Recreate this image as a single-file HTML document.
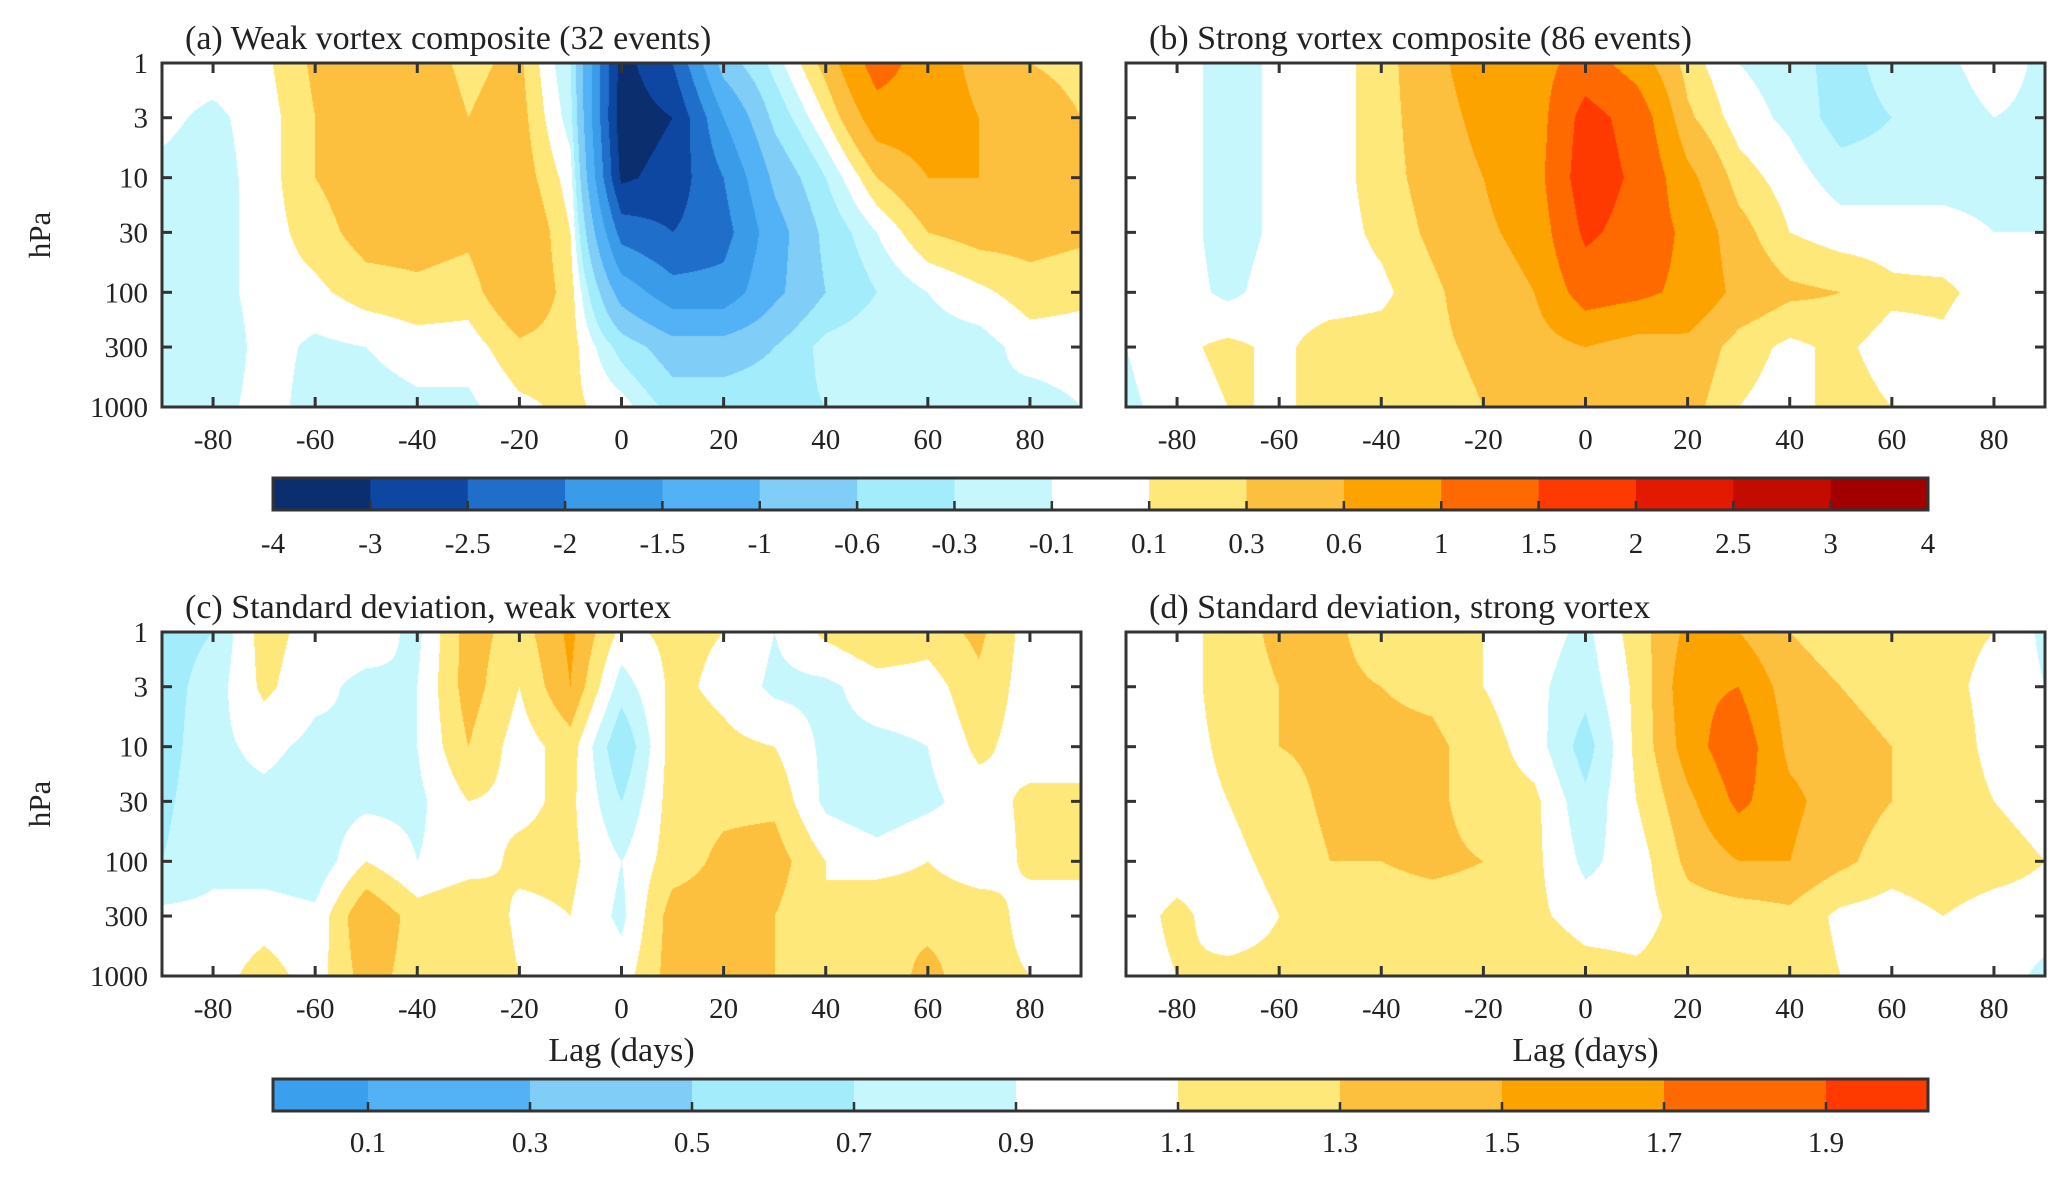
<!DOCTYPE html>
<html><head><meta charset="utf-8">
<style>
html,body{margin:0;padding:0;background:#fff;}
body{width:2067px;height:1179px;position:relative;overflow:hidden;font-family:"Liberation Serif",serif;color:#222;}
canvas{position:absolute;}
svg{position:absolute;left:0;top:0;}
</style></head><body>
<div id="root"></div>
<svg id="ov" width="2067" height="1179"></svg>
<script>
const lags=[-90,-80,-70,-60,-50,-40,-30,-20,-10,0,10,20,30,40,50,60,70,80,90];
const levels=[1,3,10,30,100,300,1000];
const xTickLabels=["-80","-60","-40","-20","0","20","40","60","80"];
const yTickLabels=["1","3","10","30","100","300","1000"];
// values per lag column, each listing levels 1..1000 hPa
const weakComposite=[
[0,-0.05,-0.15,-0.2,-0.2,-0.2,-0.2],[0,-0.15,-0.2,-0.2,-0.2,-0.3,-0.2],[0.05,0,0,0,0,0,0],
[0.35,0.3,0.3,0.2,0.05,-0.15,-0.2],[0.4,0.45,0.45,0.4,0.2,-0.1,-0.2],[0.4,0.45,0.45,0.4,0.25,0,-0.15],
[0.25,0.3,0.35,0.35,0.2,0,-0.15],[0.35,0.4,0.45,0.6,0.55,0.25,0.05],[-0.3,-0.2,0,0.1,0.2,0.2,0.15],
[-3.2,-3.3,-3.1,-2.2,-1.2,-0.4,0],[-2.5,-3,-2.8,-2.5,-1.8,-0.8,-0.4],[-0.8,-1.5,-2,-2.2,-1.8,-0.8,-0.4],
[-0.2,-0.5,-0.9,-1.2,-1.1,-0.6,-0.4],[0.4,0.1,-0.3,-0.5,-0.6,-0.2,-0.3],[1.2,0.8,0.3,-0.1,-0.3,-0.1,-0.3],
[0.8,0.8,0.6,0.3,-0.1,-0.2,-0.2],[0.5,0.6,0.6,0.4,0.05,-0.2,-0.1],[0.3,0.5,0.5,0.4,0.2,0,-0.2],
[0.2,0.3,0.4,0.35,0.15,0,-0.1]];
const strongComposite=[
[0,0,0,0,-0.1,-0.1,-0.15],[0,0,0,0,0,0.05,0],[-0.2,-0.2,-0.2,-0.2,-0.15,0.15,0.1],
[-0.05,-0.05,-0.05,-0.05,0,0.05,0.1],[0,0,0,0,0,0.2,0.1],[0.2,0.2,0.2,0.15,0.05,0.2,0.15],
[0.5,0.45,0.4,0.35,0.25,0.25,0.2],[0.8,0.7,0.6,0.55,0.45,0.35,0.3],[0.8,0.75,0.8,0.7,0.6,0.45,0.35],
[1.2,1.7,1.8,1.6,1.2,0.6,0.4],[0.8,1.3,1.4,1.3,1.1,0.45,0.4],[0.2,0.35,0.7,0.9,0.9,0.5,0.4],
[-0.1,0,0.2,0.4,0.5,0.2,0.1],[-0.2,-0.15,0,0.1,0.35,0.05,0],[-0.4,-0.4,-0.2,0,0.3,0.15,0.2],
[-0.2,-0.3,-0.2,0,0.15,0,0.1],[-0.15,-0.2,-0.15,-0.05,0.15,0.05,0],[0,-0.1,-0.15,-0.1,0,-0.1,0.05],
[-0.15,-0.15,-0.15,-0.1,0,0,0]];
const weakStd=[
[0.6,0.6,0.6,0.65,0.7,0.95,1.1],[0.7,0.8,0.85,0.85,0.85,0.95,1.0],[1.2,1.15,0.95,0.85,0.8,1.0,1.2],
[1.0,0.95,0.85,0.8,0.75,0.95,1.0],[1.0,0.85,0.9,0.85,1.1,1.5,1.4],[0.85,0.9,0.9,0.85,0.9,1.2,1.2],
[1.4,1.4,1.3,1.1,1.0,1.3,1.3],[1.2,1.1,1.0,1.05,1.15,1.05,1.1],[1.55,1.5,1.2,1.15,1.15,1.1,1.1],
[1.05,0.8,0.5,0.7,0.9,0.85,1.0],[1.15,1.15,1.2,1.2,1.2,1.4,1.4],[1.1,1.05,1.15,1.25,1.35,1.4,1.35],
[0.9,0.85,1.1,1.25,1.4,1.3,1.3],[1.15,0.85,0.85,0.85,1.1,1.1,1.3],[1.3,1.0,0.85,0.75,1.0,1.3,1.2],
[1.2,1.0,0.9,0.85,1.1,1.25,1.35],[1.35,1.25,1.15,1.0,0.95,1.25,1.2],[1.0,1.0,1.0,1.15,1.15,1.0,1.1],
[0.9,1.0,1.0,1.15,1.15,1.0,0.95]];
const strongStd=[
[1.0,1.0,0.9,0.9,0.95,1.0,1.0],[1.0,1.0,1.0,1.0,1.0,1.15,1.1],[1.2,1.2,1.15,1.1,1.05,1.0,1.15],
[1.35,1.3,1.3,1.2,1.15,1.1,1.15],[1.35,1.35,1.35,1.35,1.3,1.15,1.15],[1.2,1.3,1.35,1.35,1.3,1.2,1.15],
[1.2,1.25,1.35,1.35,1.35,1.2,1.2],[1.1,1.1,1.2,1.2,1.3,1.2,1.3],[1.0,0.95,1.0,1.15,1.15,1.15,1.3],
[0.85,0.78,0.6,0.75,0.85,1.0,1.2],[1.2,1.15,1.15,1.1,1.0,1.0,1.15],[1.55,1.65,1.6,1.45,1.35,1.2,1.2],
[1.5,1.7,1.85,1.75,1.5,1.2,1.3],[1.3,1.4,1.45,1.55,1.5,1.25,1.25],[1.2,1.3,1.4,1.4,1.35,1.05,1.1],
[1.15,1.2,1.3,1.3,1.2,1.0,1.0],[1.15,1.15,1.2,1.2,1.25,1.1,1.1],[1.1,1.05,1.05,1.1,1.2,1.0,1.0],
[0.85,0.9,0.95,1.0,1.1,1.0,0.85]];
const cb1Labels=["-4","-3","-2.5","-2","-1.5","-1","-0.6","-0.3","-0.1","0.1","0.3","0.6","1","1.5","2","2.5","3","4"];
const cb1Bounds=[-4,-3,-2.5,-2,-1.5,-1,-0.6,-0.3,-0.1,0.1,0.3,0.6,1,1.5,2,2.5,3,4];
const cb1Colors=["#0b2e6f","#0d47a1","#1f6fca","#3a9be8","#52b2f5","#80cdf8","#a2ecfc","#c6f7fc","#ffffff","#fee87a","#fcbf3e","#fca300","#fe6a00","#ff3a00","#e31a00","#c20c00","#a00000"];
const cb2Labels=["0.1","0.3","0.5","0.7","0.9","1.1","1.3","1.5","1.7","1.9"];
const cb2Bounds=[0.1,0.3,0.5,0.7,0.9,1.1,1.3,1.5,1.7,1.9];
const cb2Colors=["#3aa0ee","#52b2f5","#80cdf8","#a2ecfc","#c6f7fc","#ffffff","#fee87a","#fcbf3e","#fca300","#fe6a00","#ff3a00"];

const NS="http://www.w3.org/2000/svg";
const ov=document.getElementById('ov');
const root=document.getElementById('root');
function hex(c){return [parseInt(c.substr(1,2),16),parseInt(c.substr(3,2),16),parseInt(c.substr(5,2),16)];}
function bin1(v){let i=0;while(i<cb1Bounds.length-2&&v>=cb1Bounds[i+1])i++;return i;}
function bin2(v){let i=0;while(i<cb2Bounds.length&&v>=cb2Bounds[i])i++;return i;}
function text(x,y,s,size,anchor,name){
 const t=document.createElementNS(NS,'text');
 t.setAttribute('x',x);t.setAttribute('y',y);t.setAttribute('font-size',size);
 t.setAttribute('text-anchor',anchor||'middle');t.setAttribute('fill','#222');
 t.setAttribute('font-family','Liberation Serif, serif');
 
 
 t.textContent=s;ov.appendChild(t);return t;}
function line(x1,y1,x2,y2,w,name){
 const l=document.createElementNS(NS,'line');
 l.setAttribute('x1',x1);l.setAttribute('y1',y1);l.setAttribute('x2',x2);l.setAttribute('y2',y2);
 l.setAttribute('stroke','#333');l.setAttribute('stroke-width',w);
 
 
 ov.appendChild(l);}
function rect(x,y,w,h,fill,name,stroke){
 const r=document.createElementNS(NS,'rect');
 r.setAttribute('x',x);r.setAttribute('y',y);r.setAttribute('width',w);r.setAttribute('height',h);
 r.setAttribute('fill',fill);if(stroke){r.setAttribute('stroke',stroke);r.setAttribute('stroke-width',3);}
 
 
 ov.appendChild(r);}

function panel(L,T,W,H,data,mode,title,name,showY,showLag){
 const xs=v=>L+(v+90)/180*W;
 const ys=p=>T+Math.log10(p)/3*H;
 const cv=document.createElement('canvas');
 cv.width=W;cv.height=H;cv.style.left=L+'px';cv.style.top=T+'px';
 
 
 root.appendChild(cv);
 const ctx=cv.getContext('2d');const img=ctx.createImageData(W,H);
 const pal=(mode==1?cb1Colors:cb2Colors).map(hex);
 const nl=lags.length,nv=levels.length;
 const lx=levels.map(p=>Math.log10(p));
 for(let py=0;py<H;py++){
  const lp=(py+0.5)/H*3;
  let j=0;while(j<nv-2&&lp>lx[j+1])j++;
  const fy=Math.min(1,Math.max(0,(lp-lx[j])/(lx[j+1]-lx[j])));
  for(let px=0;px<W;px++){
   const lag=-90+(px+0.5)/W*180;
   let i=0;while(i<nl-2&&lag>lags[i+1])i++;
   const fx=Math.min(1,Math.max(0,(lag-lags[i])/(lags[i+1]-lags[i])));
   const v=(data[i][j]*(1-fx)+data[i+1][j]*fx)*(1-fy)+(data[i][j+1]*(1-fx)+data[i+1][j+1]*fx)*fy;
   const c=pal[mode==1?bin1(v):bin2(v)];
   const k=(py*W+px)*4;img.data[k]=c[0];img.data[k+1]=c[1];img.data[k+2]=c[2];img.data[k+3]=255;
  }}
 ctx.putImageData(img,0,0);
 rect(L,T,W,H,'none',name+'-frame','#333');
 xTickLabels.forEach(s=>{const x=xs(+s);
  line(x,T+H,x,T+H-10,3,name+'-x-tick');line(x,T,x,T+10,3,name+'-x-tick-top');
  text(x,T+H+42,s,29,'middle',name+'-x-tick-label');});
 yTickLabels.forEach(s=>{const y=ys(+s);
  line(L,y,L+10,y,3,name+'-y-tick');line(L+W,y,L+W-10,y,3,name+'-y-tick-right');
  if(showY)text(L-14,y+10,s,29,'end',name+'-y-tick-label');});
 text(L+23,T-14,title,34,'start',name+'-title');
 if(showY){const t=text(0,0,'hPa',31,'middle',name+'-y-axis-title');t.setAttribute('transform','translate('+(L-112)+','+(T+H/2)+') rotate(-90)');}
 if(showLag)text(L+W/2,T+H+85,'Lag (days)',34,'middle',name+'-x-axis-title');
}
panel(162,63,919,344,weakComposite,1,'(a) Weak vortex composite (32 events)','panel-a',true,false);
panel(1126,63,919,344,strongComposite,1,'(b) Strong vortex composite (86 events)','panel-b',false,false);
panel(162,632,919,344,weakStd,2,'(c) Standard deviation, weak vortex','panel-c',true,true);
panel(1126,632,919,344,strongStd,2,'(d) Standard deviation, strong vortex','panel-d',false,true);

(function(){const L=273,R=1928,T=478,B=510,n=cb1Colors.length,w=(R-L)/n;
 cb1Colors.forEach((c,i)=>rect(L+i*w,T,w+0.5,B-T,c,'colorbar-top-swatch'));
 rect(L,T,R-L,B-T,'none','colorbar-top-frame','#333');
 cb1Labels.forEach((s,i)=>{const x=L+i*w;if(i>0&&i<cb1Labels.length-1)line(x,B,x,B-9,2.5,'colorbar-top-tick');
  text(x,B+43,s,29,'middle','colorbar-top-label');});})();
(function(){const L=273,R=1928,T=1079,B=1111,first=368,step=162;
 const edges=[L];cb2Bounds.forEach((b,i)=>edges.push(first+i*step));edges.push(R);
 cb2Colors.forEach((c,i)=>rect(edges[i],T,edges[i+1]-edges[i]+0.5,B-T,c,'colorbar-bottom-swatch'));
 rect(L,T,R-L,B-T,'none','colorbar-bottom-frame','#333');
 cb2Labels.forEach((s,i)=>{const x=first+i*step;line(x,B,x,B-9,2.5,'colorbar-bottom-tick');
  text(x,B+41,s,29,'middle','colorbar-bottom-label');});})();
</script>
</body></html>
